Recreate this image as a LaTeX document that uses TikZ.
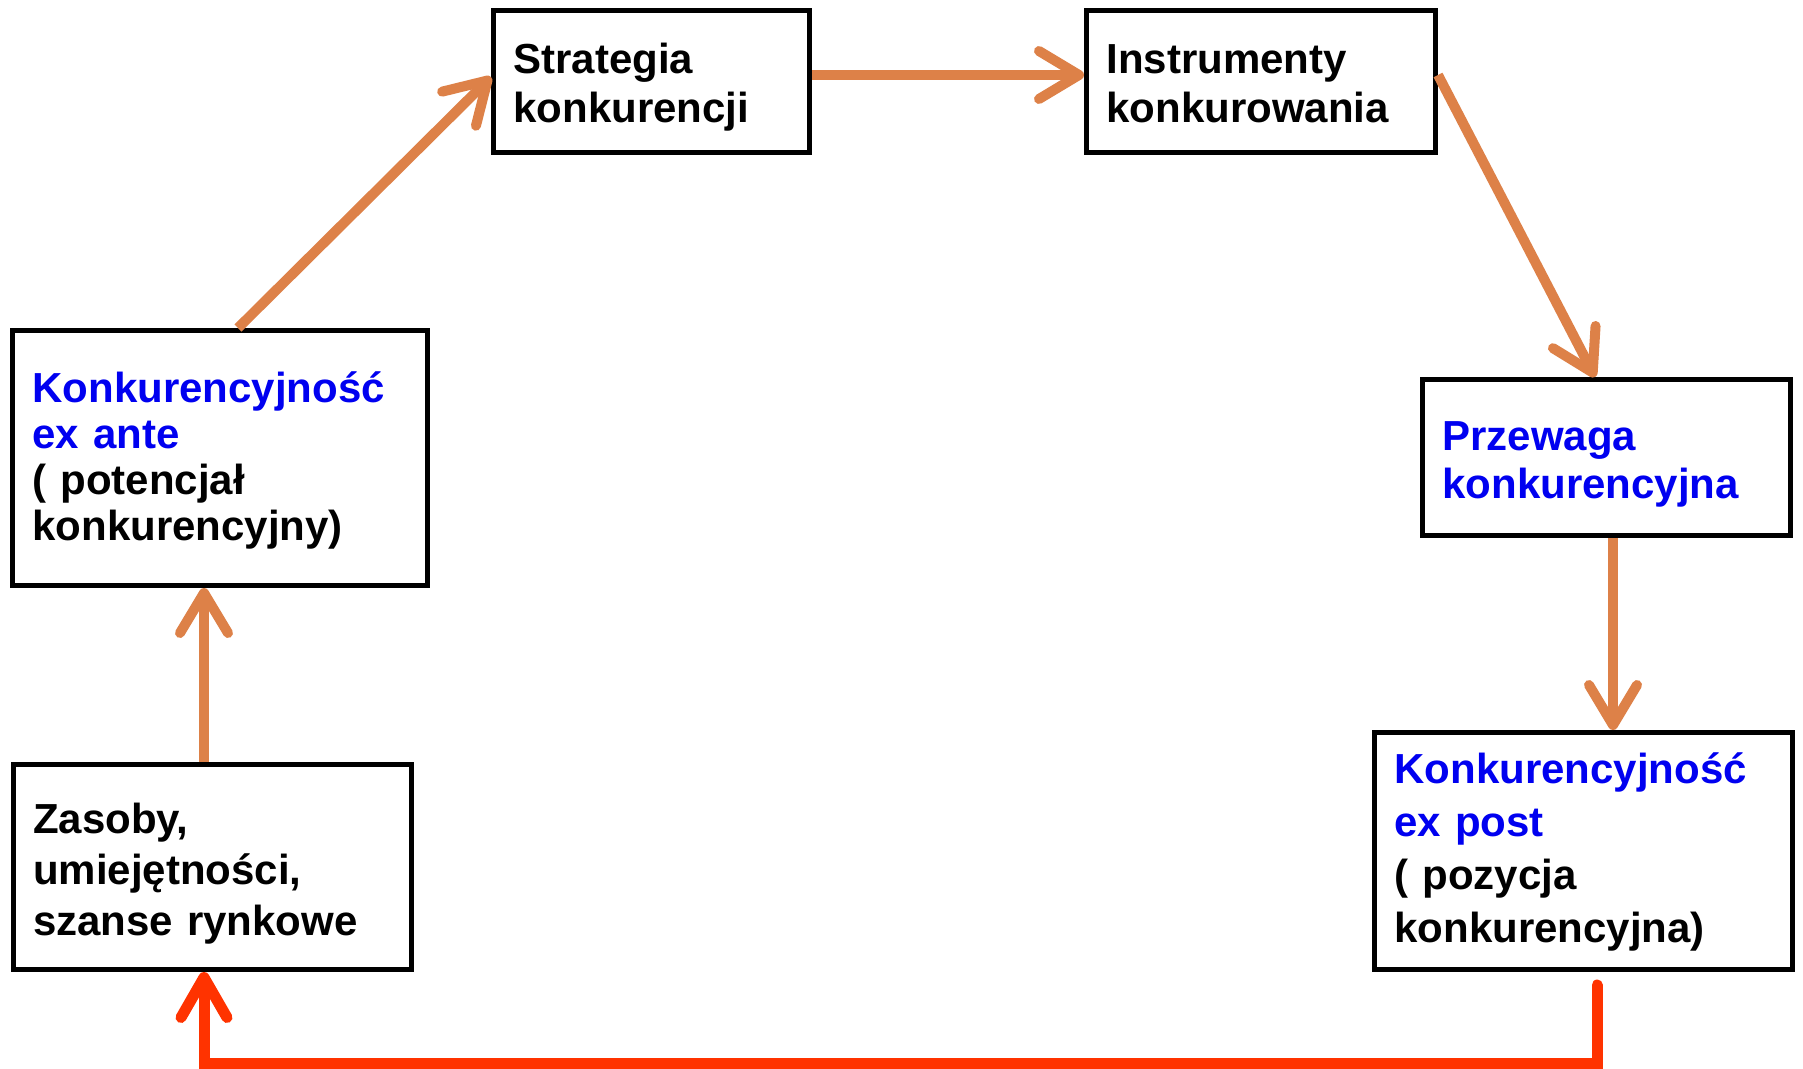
\documentclass[tikz,border=0pt]{standalone}
\usepackage{fontspec}
\setmainfont{Liberation Sans}
\usetikzlibrary{arrows.meta}
\definecolor{tblue}{RGB}{0,0,240}
\definecolor{oarr}{RGB}{221,129,72}
\definecolor{rarr}{RGB}{255,51,0}
\begin{document}
\begin{tikzpicture}[x=1pt,y=-1pt,
  box/.style={draw=black, line width=5pt, inner xsep=20pt, inner ysep=0pt, align=left,
    font=\bfseries\fontsize{42}{48}\selectfont, anchor=center, text height=0pt},
  oarrow/.style={draw=oarr, line width=10pt, -{Straight Barb[length=40pt,width=48pt,round]}},
  rarrow/.style={draw=rarr, line width=11pt, line cap=round, line join=miter,
    -{Straight Barb[length=40pt,width=46pt,round]}}
]
\fill[white] (0,0) rectangle (1803,1068);
\useasboundingbox (0,0) rectangle (1803,1068);

\node[box, text width=375pt, minimum height=255pt, text depth=112pt, font=\bfseries\fontsize{42}{46}\selectfont] (exante) at (220,458)
  {{\color{tblue}Konkurencyjność\\ex ante}\\( potencjał\\konkurencyjny)};
\node[box, text width=358pt, minimum height=205pt, text depth=68pt, font=\bfseries\fontsize{42}{51}\selectfont] (zasoby) at (212,867)
  {Zasoby,\\umiejętności,\\szanse rynkowe};
\node[box, text width=276pt, minimum height=142pt, text depth=17pt, font=\bfseries\fontsize{42}{49}\selectfont] (strategia) at (651.5,81.5)
  {Strategia\\konkurencji};
\node[box, text width=309pt, minimum height=142pt, text depth=17pt, font=\bfseries\fontsize{42}{49}\selectfont] (instr) at (1261,81.5)
  {Instrumenty\\konkurowania};
\node[box, text width=328pt, minimum height=156pt, text depth=15pt, text=tblue] (przewaga) at (1606.5,457.5)
  {Przewaga\\konkurencyjna};
\node[box, text width=378pt, minimum height=237pt, text depth=136pt, font=\bfseries\fontsize{42}{53}\selectfont] (expost) at (1583.5,851)
  {{\color{tblue}Konkurencyjność\\ex post}\\( pozycja\\konkurencyjna)};

\draw[oarrow] ([xshift=-8pt]zasoby.north) -- ([xshift=-8pt]zasoby.north |- exante.south);
\draw[oarrow] ([xshift=18pt]exante.north) -- ([yshift=4.5pt]strategia.west);
\draw[oarrow] ([yshift=6.5pt]strategia.east) -- ([yshift=6.5pt]instr.west);
\draw[oarrow] ([yshift=6.5pt]instr.east) -- ([xshift=-11.5pt]przewaga.north);
\draw[oarrow] ([xshift=6.5pt]przewaga.south) -- ([xshift=6.5pt]przewaga.south |- expost.north);

\coordinate (bot) at (0,1063);
\coordinate (zin) at ([xshift=-8pt]zasoby.south);
\draw[rarrow] ([xshift=13.5pt,yshift=-13pt]expost.south) |- (zin |- bot) -- (zin);
\end{tikzpicture}
\end{document}
